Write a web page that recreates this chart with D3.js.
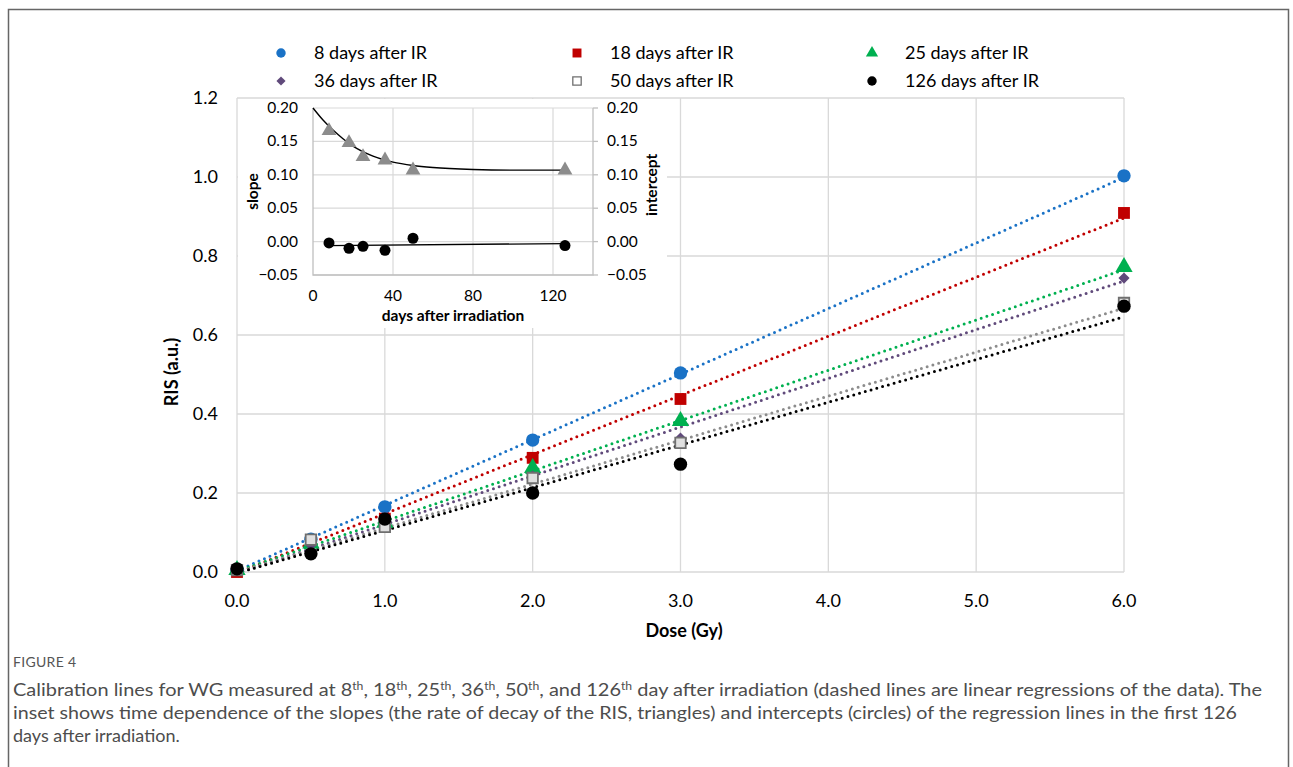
<!DOCTYPE html>
<html>
<head>
<meta charset="utf-8">
<script src="https://cdn.jsdelivr.net/npm/d3@7"></script>
<style>
body { margin: 0; background: #fff; }
text { font-family: Lato, "Open Sans", sans-serif; fill: #000; }
</style>
</head>
<body>
<svg id="chart" width="1293" height="767"></svg>
<script>
// main chart data
const doses = [0, 0.5, 1, 2, 3, 6];
const seriesNames = ['8 days after IR', '18 days after IR', '25 days after IR',
  '36 days after IR', '50 days after IR', '126 days after IR'];
const ris8 = [0.005, 0.083, 0.165, 0.334, 0.504, 1.003];
const ris18 = [0.000, 0.076, 0.135, 0.289, 0.438, 0.909];
const ris25 = [0.005, 0.072, 0.125, 0.263, 0.382, 0.772];
const ris36 = [0.005, 0.068, 0.115, 0.243, 0.339, 0.744];
const ris50 = [0.005, 0.082, 0.114, 0.238, 0.327, 0.681];
const ris126 = [0.008, 0.046, 0.134, 0.200, 0.273, 0.673];
const fitSlope = [0.166, 0.1497, 0.1272, 0.1233, 0.1113, 0.1082];
const fitIntercept = [0.003, -0.002, 0.002, -0.003, 0.000, -0.003];
const colors = ['#1a72c6', '#c00000', '#00b050', '#604a7b', '#8c8c8c', '#000000'];

const xTicks = [0, 1, 2, 3, 4, 5, 6];
const yTicks = [0, 0.2, 0.4, 0.6, 0.8, 1.0, 1.2];

// inset data
const insetDays = [8, 18, 25, 36, 50, 126];
const insetSlopes = [0.166, 0.148, 0.127, 0.122, 0.107, 0.107];
const insetIntercepts = [-0.002, -0.010, -0.007, -0.013, 0.005, -0.006];
const slopeCurveDays = [0, 5, 10, 15, 20, 30, 40, 50, 60, 80, 100, 126];
const slopeCurveValues = [0.200, 0.182, 0.167, 0.154, 0.143, 0.128, 0.119, 0.114, 0.111, 0.108, 0.107, 0.107];
const interceptLineDays = [7, 126];
const interceptLineValues = [-0.006, -0.003];
const insetXTicks = [0, 40, 80, 120];
const insetYTicks = [-0.05, 0, 0.05, 0.10, 0.15, 0.20];

const series = [ris8, ris18, ris25, ris36, ris50, ris126];

const svg = d3.select('#chart');
const gridColor = '#d9d9d9';

// outer frame
svg.append('path')
  .attr('d', 'M8.5,780 V9.5 H1288.5 V780')
  .attr('fill', 'none').attr('stroke', '#666').attr('stroke-width', 1.5);

const x = d3.scaleLinear().domain([0, 6]).range([237, 1124]);
const y = d3.scaleLinear().domain([0, 1.2]).range([572, 98]);

// gridlines
svg.append('g').selectAll('line').data(xTicks).join('line')
  .attr('x1', d => x(d)).attr('x2', d => x(d))
  .attr('y1', y(0)).attr('y2', y(1.2))
  .attr('stroke', gridColor).attr('stroke-width', 1.3);
svg.append('g').selectAll('line').data(yTicks).join('line')
  .attr('x1', x(0)).attr('x2', x(6))
  .attr('y1', d => y(d)).attr('y2', d => y(d))
  .attr('stroke', gridColor).attr('stroke-width', 1.3);

// tick labels
svg.append('g').selectAll('text').data(xTicks).join('text')
  .attr('x', d => x(d)).attr('y', 607)
  .attr('text-anchor', 'middle').attr('font-size', 18)
  .text(d => d3.format('.1f')(d));
svg.append('g').selectAll('text').data(yTicks).join('text')
  .attr('x', 218).attr('y', d => y(d) + 6)
  .attr('text-anchor', 'end').attr('font-size', 18)
  .text(d => d3.format('.1f')(d));

svg.append('text').attr('x', 684).attr('y', 637)
  .attr('text-anchor', 'middle').attr('font-size', 18).attr('font-weight', 'bold')
  .text('Dose (Gy)');
svg.append('text').attr('transform', 'translate(178,372) rotate(-90)')
  .attr('text-anchor', 'middle').attr('font-size', 18).attr('font-weight', 'bold')
  .text('RIS (a.u.)');

// regression lines (dotted)
const line = d3.line().x(d => x(d[0])).y(d => y(d[1]));
svg.append('g').selectAll('path').data(d3.range(6)).join('path')
  .attr('d', i => line([[0, fitIntercept[i]], [6, fitIntercept[i] + fitSlope[i] * 6]]))
  .attr('fill', 'none')
  .attr('stroke', i => colors[i])
  .attr('stroke-width', 3)
  .attr('stroke-linecap', 'round')
  .attr('stroke-dasharray', '0 6');

// markers
const shapes = [d3.symbolCircle, d3.symbolSquare, d3.symbolTriangle, d3.symbolSquare, d3.symbolSquare, d3.symbolCircle];
const sizes = [140, 140, 130, 62, 110, 140];
const rotations = [0, 0, 0, 45, 0, 0];
const fills = ['#1a72c6', '#c00000', '#00b050', '#604a7b', '#e0e0e0', '#000000'];
const strokes = ['none', 'none', 'none', 'none', '#6f6f6f', 'none'];

series.forEach((vals, i) => {
  svg.append('g').selectAll('path').data(vals).join('path')
    .attr('d', d3.symbol().type(shapes[i]).size(sizes[i]))
    .attr('transform', (d, j) => `translate(${x(doses[j])},${y(d)}) rotate(${rotations[i]})`)
    .attr('fill', fills[i])
    .attr('stroke', strokes[i])
    .attr('stroke-width', 1.8);
});

// legend
const legendX = [281, 577, 872];
const legendY = [53, 81];
const legendSizes = [70, 80, 65, 42, 70, 70];
const legendFills = ['#1a72c6', '#c00000', '#00b050', '#604a7b', '#ffffff', '#000000'];
const legend = svg.append('g').selectAll('g').data(seriesNames).join('g')
  .attr('transform', (d, i) => `translate(${legendX[i % 3]},${legendY[Math.floor(i / 3)]})`);
legend.append('path')
  .attr('d', (d, i) => d3.symbol().type(shapes[i]).size(legendSizes[i])())
  .attr('transform', (d, i) => `rotate(${rotations[i]})`)
  .attr('fill', (d, i) => legendFills[i])
  .attr('stroke', (d, i) => strokes[i])
  .attr('stroke-width', 1.3);
legend.append('text')
  .attr('x', 33).attr('y', 6)
  .attr('font-size', 18)
  .text(d => d);

// inset
svg.append('rect').attr('x', 238).attr('y', 99).attr('width', 429).attr('height', 229).attr('fill', '#fff');

const ix = d3.scaleLinear().domain([0, 140]).range([313, 593]);
const iy = d3.scaleLinear().domain([-0.05, 0.20]).range([275, 108]);
const inset = svg.append('g');

inset.append('g').selectAll('line').data(insetXTicks.slice(1)).join('line')
  .attr('x1', d => ix(d)).attr('x2', d => ix(d))
  .attr('y1', iy(-0.05)).attr('y2', iy(0.20))
  .attr('stroke', gridColor).attr('stroke-width', 1.2);
inset.append('g').selectAll('line').data(insetYTicks).join('line')
  .attr('x1', ix(0)).attr('x2', ix(140))
  .attr('y1', d => iy(d)).attr('y2', d => iy(d))
  .attr('stroke', gridColor).attr('stroke-width', 1.2);

// axis frame: left, bottom, right with outward ticks
inset.append('path')
  .attr('d', `M${ix(0)},${iy(0.20)} V${iy(-0.05)} H${ix(140)} V${iy(0.20)}`)
  .attr('fill', 'none').attr('stroke', '#bfbfbf').attr('stroke-width', 1.3);
inset.append('g').selectAll('line').data(insetYTicks).join('line')
  .attr('x1', ix(140)).attr('x2', ix(140) + 5)
  .attr('y1', d => iy(d)).attr('y2', d => iy(d))
  .attr('stroke', '#bfbfbf').attr('stroke-width', 1.3);

const fmt2 = d3.format('.2f');
inset.append('g').selectAll('text').data(insetYTicks).join('text')
  .attr('x', 298).attr('y', d => iy(d) + 5)
  .attr('text-anchor', 'end').attr('font-size', 15.5)
  .text(d => fmt2(d));
inset.append('g').selectAll('text').data(insetYTicks).join('text')
  .attr('x', 607).attr('y', d => iy(d) + 5)
  .attr('font-size', 15.5)
  .text(d => fmt2(d));
inset.append('g').selectAll('text').data(insetXTicks).join('text')
  .attr('x', d => ix(d)).attr('y', 301)
  .attr('text-anchor', 'middle').attr('font-size', 15.5)
  .text(d => d);

inset.append('text').attr('x', 453).attr('y', 321)
  .attr('text-anchor', 'middle').attr('font-size', 15.5).attr('font-weight', 'bold')
  .text('days after irradiation');
inset.append('text').attr('transform', `translate(258,${iy(0.075)}) rotate(-90)`)
  .attr('text-anchor', 'middle').attr('font-size', 15.5).attr('font-weight', 'bold')
  .text('slope');
inset.append('text').attr('transform', `translate(657,${iy(0.085)}) rotate(-90)`)
  .attr('text-anchor', 'middle').attr('font-size', 15.5).attr('font-weight', 'bold')
  .text('intercept');

const iline = d3.line().x(d => ix(d[0])).y(d => iy(d[1]));
inset.append('path')
  .attr('d', iline.curve(d3.curveMonotoneX)(d3.zip(slopeCurveDays, slopeCurveValues)))
  .attr('fill', 'none').attr('stroke', '#000').attr('stroke-width', 1.4);
inset.append('path')
  .attr('d', d3.line().x(d => ix(d[0])).y(d => iy(d[1]))(d3.zip(interceptLineDays, interceptLineValues)))
  .attr('fill', 'none').attr('stroke', '#000').attr('stroke-width', 1.4);

inset.append('g').selectAll('path').data(insetSlopes).join('path')
  .attr('d', d3.symbol().type(d3.symbolTriangle).size(95))
  .attr('transform', (d, i) => `translate(${ix(insetDays[i])},${iy(d)})`)
  .attr('fill', '#8c8c8c');
inset.append('g').selectAll('circle').data(insetIntercepts).join('circle')
  .attr('cx', (d, i) => ix(insetDays[i])).attr('cy', d => iy(d))
  .attr('r', 5.5).attr('fill', '#000');

// caption
svg.append('text').attr('x', 13).attr('y', 667)
  .attr('font-size', 14).style('fill', '#555').style('letter-spacing', '0.3px')
  .text('FIGURE 4');

const capLines = [
  [['Calibration lines for WG measured at 8'], ['th', 1], [', 18'], ['th', 1], [', 25'], ['th', 1], [', 36'], ['th', 1],
   [', 50'], ['th', 1], [', and 126'], ['th', 1], [' day after irradiation (dashed lines are linear regressions of the data). The']],
  [['inset shows time dependence of the slopes (the rate of decay of the RIS, triangles) and intercepts (circles) of the regression lines in the first 126']],
  [['days after irradiation.']]
];
const capWidths = [1249, 1224, null];
capLines.forEach((parts, k) => {
  const t = svg.append('text').attr('x', 13).attr('y', 696 + k * 23)
    .attr('font-size', 18).style('fill', '#4d4d4d');
  if (capWidths[k]) t.attr('textLength', capWidths[k]).attr('lengthAdjust', 'spacingAndGlyphs');
  parts.forEach(p => {
    const ts = t.append('tspan').text(p[0]).style('fill', '#4d4d4d');
    if (p[1]) ts.attr('baseline-shift', 'super').attr('font-size', 11);
  });
});
</script>
</body>
</html>
